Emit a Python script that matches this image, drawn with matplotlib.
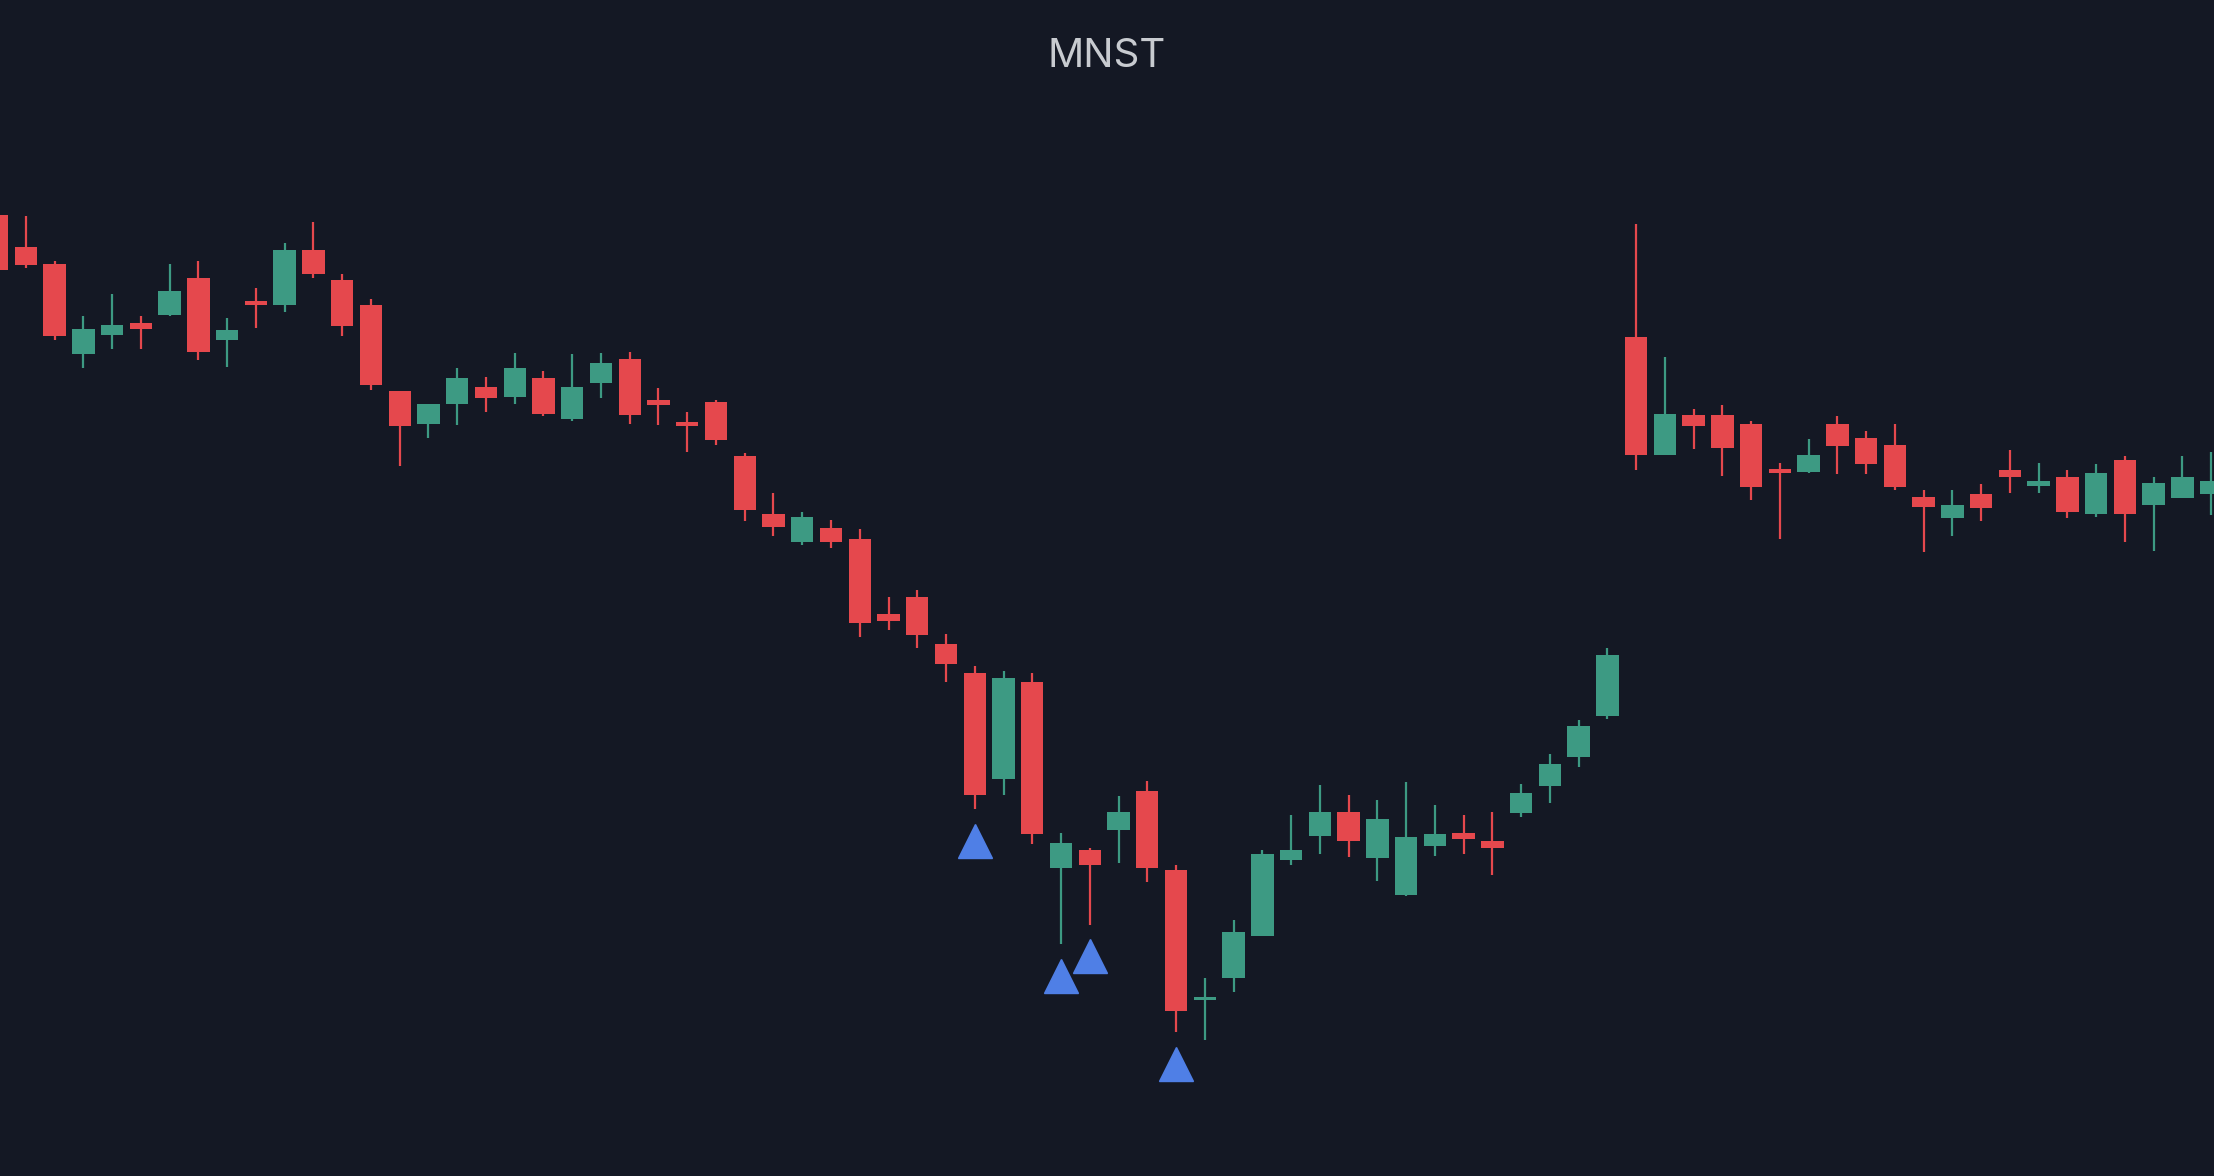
import numpy as np
import matplotlib.pyplot as plt

# candle readings in screen units (larger = lower on chart), so the y axis is inverted
OPEN = [152, 175, 187, 251, 237, 229, 223, 197, 241, 213, 216, 177, 198, 216, 277, 300, 286, 274, 281, 268,
        297, 271, 254, 283, 299, 285, 323, 364, 384, 374, 382, 435, 423, 456, 477, 552, 483, 615, 602, 588,
        560, 616, 708, 693, 663, 609, 592, 575, 608, 634, 599, 590, 596, 576, 557, 536, 507, 239, 322, 294,
        294, 300, 332, 334, 300, 310, 315, 352, 367, 350, 333, 344, 338, 364, 326, 358, 353, 350]
CLOSE = [191, 188, 238, 233, 230, 233, 206, 249, 234, 216, 177, 194, 231, 273, 302, 286, 268, 282, 261, 293,
         274, 257, 294, 287, 301, 312, 361, 373, 366, 384, 441, 440, 450, 470, 563, 480, 591, 597, 613, 575,
         615, 716, 706, 660, 605, 602, 575, 596, 580, 593, 591, 594, 601, 562, 541, 514, 464, 322, 293, 302,
         317, 345, 335, 322, 316, 329, 345, 359, 358, 360, 338, 341, 363, 335, 364, 342, 338, 341]
HIGH = [152, 153, 185, 224, 208, 224, 187, 185, 225, 204, 172, 157, 194, 212, 277, 286, 261, 267, 250, 263,
        251, 250, 249, 275, 292, 283, 321, 349, 363, 368, 375, 423, 418, 449, 472, 475, 477, 590, 601, 564,
        553, 613, 693, 652, 602, 577, 556, 563, 567, 554, 570, 577, 575, 555, 534, 510, 459, 159, 253, 290,
        287, 298, 328, 311, 295, 305, 300, 347, 347, 343, 319, 328, 333, 329, 323, 338, 323, 320]
LOW = [191, 190, 241, 261, 247, 247, 224, 255, 260, 232, 221, 197, 238, 276, 330, 310, 301, 292, 286, 295,
       298, 282, 300, 301, 320, 315, 369, 380, 386, 388, 451, 446, 459, 483, 573, 563, 598, 669, 655, 611,
       625, 731, 737, 703, 663, 613, 605, 607, 624, 635, 606, 605, 620, 579, 569, 543, 509, 333, 322, 318,
       337, 354, 382, 335, 336, 336, 347, 391, 380, 369, 349, 349, 367, 366, 384, 390, 353, 365]

SIGNAL_IDX = [34, 37, 38, 41]
SIGNAL_Y = [596, 691, 677, 754]

BG = '#141824'
UP = '#3d9a83'
DOWN = '#e5484d'

fig = plt.figure(figsize=(22.14, 11.76), dpi=100, facecolor=BG)
ax = fig.add_axes([0, 0, 1, 1], facecolor=BG)

for i, (o, c, h, l) in enumerate(zip(OPEN, CLOSE, HIGH, LOW)):
    col = UP if c < o else DOWN
    ax.vlines(i, h, l, color=col, lw=1.6, zorder=2)
    top, bot = min(o, c), max(o, c)
    ax.bar(i, max(bot - top, 2.5), bottom=top, width=0.78, color=col, zorder=3)

ax.plot(SIGNAL_IDX, SIGNAL_Y, linestyle='none', marker='^', markersize=25,
        color='#4f7fe6', zorder=4)

ax.set_xlim(0.098, 77.1)
ax.set_ylim(833, 0)
ax.axis('off')

fig.text(0.5, 0.952, 'MNST', ha='center', va='center', fontsize=29,
         color='#c8cbd0', family=['Inter', 'DejaVu Sans'])

fig.savefig('out.png', dpi=100, facecolor=BG)
